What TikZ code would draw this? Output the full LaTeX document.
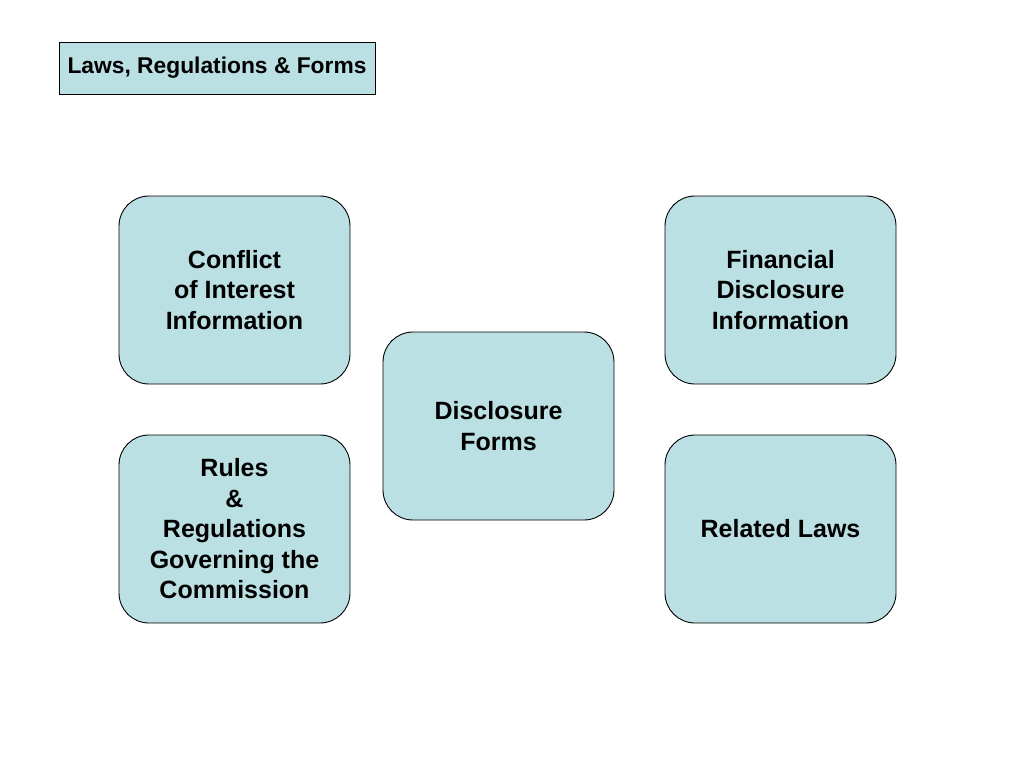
\documentclass[tikz,border=0pt]{standalone}
\usepackage{fontspec}
\setmainfont{Liberation Sans}
\definecolor{boxfill}{HTML}{BBE0E3}
\begin{document}
\begin{tikzpicture}[x=1pt,y=-1pt,
  card/.style={draw=black,line width=0.9pt,fill=boxfill,rounded corners=30pt,
    minimum width=231pt,minimum height=188pt,inner sep=0pt,align=center,
    font=\fontsize{25pt}{30.5pt}\selectfont\bfseries},
  titlebox/.style={draw=black,line width=0.9pt,fill=boxfill,
    minimum width=316pt,minimum height=52pt,inner sep=0pt,
    font=\fontsize{22.8pt}{26pt}\selectfont\bfseries}]
\useasboundingbox (0,0) rectangle (1024,768);
\fill[white] (0,0) rectangle (1024,768);
\node[titlebox] (title) at (217,68) {Laws, Regulations \& Forms};
\node[card] (coi) at (234.5,290) {Conflict\\of Interest\\Information};
\node[card] (fin) at (780.5,290) {Financial\\Disclosure\\Information};
\node[card] (forms) at (498.5,426) {Disclosure\\Forms};
\node[card] (rules) at (234.5,529) {Rules\\\&\\Regulations\\Governing the\\Commission};
\node[card] (laws) at (780.5,529) {Related Laws};
\end{tikzpicture}
\end{document}
